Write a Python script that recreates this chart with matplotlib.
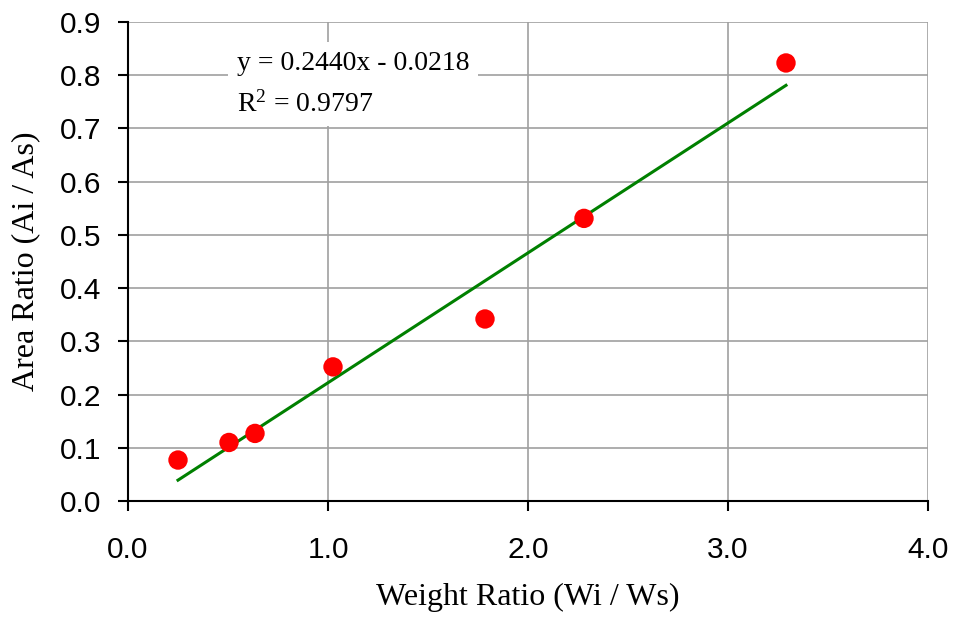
import matplotlib
matplotlib.use("Agg")
import matplotlib.pyplot as plt
import numpy as np

# Measured points
weight_ratio = [0.25, 0.505, 0.635, 1.025, 1.785, 2.28, 3.29]
area_ratio = [0.077, 0.110, 0.127, 0.252, 0.342, 0.531, 0.823]

# Linear trendline as reported on the chart
slope = 0.2440
intercept = -0.0218
r_squared = 0.9797

x_ticks = [0.0, 1.0, 2.0, 3.0, 4.0]
y_ticks = [0.0, 0.1, 0.2, 0.3, 0.4, 0.5, 0.6, 0.7, 0.8, 0.9]

fig = plt.figure(figsize=(9.56, 6.19), dpi=100)
ax = fig.add_axes([0.1339, 0.1906, 0.8368, 0.7739])

ax.set_xlim(0, 4)
ax.set_ylim(0, 0.9)
ax.set_xticks(x_ticks)
ax.set_yticks(y_ticks)
ax.set_xticklabels([f"{v:.1f}" for v in x_ticks])
ax.set_yticklabels([f"{v:.1f}" for v in y_ticks])

ax.grid(True, color="#a0a0a0", linewidth=1.2)
ax.set_axisbelow(True)
for side in ("top", "right"):
    ax.spines[side].set_visible(False)
for side in ("left", "bottom"):
    ax.spines[side].set_linewidth(1.5)
ax.tick_params(direction="out", length=7, width=1.5, labelsize=21.5,
               labelfontfamily="Liberation Sans")
ax.tick_params(axis="y", pad=12)
ax.tick_params(axis="x", pad=18)

xs = np.array([min(weight_ratio), max(weight_ratio)])
ax.plot(xs, slope * xs + intercept, color="#008000", linewidth=2.2, zorder=3)
ax.scatter(weight_ratio, area_ratio, s=195, color="#ff0000", zorder=4,
           edgecolors="none", clip_on=False)

ax.text(0.136, 0.94,
        f"y = {slope:.4f}x - {abs(intercept):.4f}\n$\\mathregular{{R^2}}$ = {r_squared:.4f}",
        transform=ax.transAxes, ha="left", va="top",
        fontsize=20, family="Liberation Serif", linespacing=1.75,
        bbox=dict(facecolor="white", edgecolor="none", pad=6), zorder=5)

ax.set_xlabel("Weight Ratio (Wi / Ws)", fontsize=23, family="Liberation Serif",
              labelpad=14)
ax.set_ylabel("Area Ratio (Ai / As)", fontsize=23, family="Liberation Serif",
              labelpad=14)

fig.savefig("out.png", dpi=100)
